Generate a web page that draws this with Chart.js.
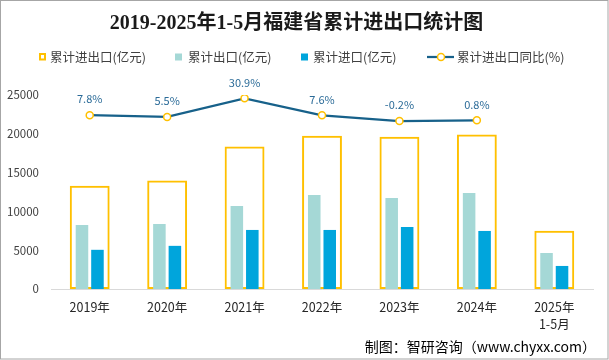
<!DOCTYPE html>
<html>
<head>
<meta charset="utf-8">
<script src="https://cdn.jsdelivr.net/npm/chart.js@4.4.1/dist/chart.umd.min.js"></script>
<style>html,body{margin:0;padding:0;background:#fff;}canvas{display:block;}</style>
</head>
<body>
<canvas id="c" width="609" height="360"></canvas>
<script>
// ---- data ----
const titleText = '2019-2025年1-5月福建省累计进出口统计图';
const sourceText = '制图：智研咨询（www.chyxx.com）';
const categories = ['2019年', '2020年', '2021年', '2022年', '2023年', '2024年', ['2025年', '1-5月']];
const seriesNames = ['累计进出口(亿元)', '累计出口(亿元)', '累计进口(亿元)', '累计进出口同比(%)'];
const totalValues = [13300, 13980, 18350, 19760, 19620, 19900, 7500];
const exportValues = [8250, 8380, 10700, 12120, 11730, 12370, 4640];
const importValues = [5050, 5560, 7610, 7610, 7990, 7480, 2970];
const yoyValues = [7.8, 5.5, 30.9, 7.6, -0.2, 0.8, null];
const yTicks = [0, 5000, 10000, 15000, 20000, 25000];

// ---- styles ----
const CJK = "'Noto Sans CJK SC', 'Noto Sans', sans-serif";
const C_TOTAL = '#FFC000';
const C_EXPORT = '#A5D8D6';
const C_IMPORT = '#00A5DC';
const C_LINE = '#17618A';
const C_LABEL = '#2B6B98';

const overlay = {
  id: 'overlay',
  beforeDraw(chart) {
    const c = chart.ctx;
    c.save();
    c.fillStyle = '#fff';
    c.fillRect(0, 0, chart.width, chart.height);
    c.restore();
  },
  afterDatasetsDraw(chart) {
    const c = chart.ctx;
    const meta = chart.getDatasetMeta(3);
    c.save();
    c.font = '11px ' + CJK;
    c.fillStyle = C_LABEL;
    c.textAlign = 'center';
    c.textBaseline = 'middle';
    meta.data.forEach((pt, i) => {
      const v = yoyValues[i];
      if (v === null || v === undefined) return;
      c.fillText(v.toFixed(1) + '%', pt.x, pt.y - 16);
    });
    c.restore();
  },
  afterDraw(chart) {
    const c = chart.ctx;
    c.save();
    // legend
    const ly = 57;
    c.font = '12.5px ' + CJK;
    c.fillStyle = '#404040';
    c.textAlign = 'left';
    c.textBaseline = 'middle';
    // item 1: hollow box
    c.strokeStyle = C_TOTAL; c.lineWidth = 2;
    c.strokeRect(40, 54, 5, 5.5);
    c.fillStyle = '#404040';
    c.fillText(seriesNames[0], 50, ly);
    // item 2
    c.fillStyle = C_EXPORT; c.fillRect(175, 53.5, 7, 7);
    c.fillStyle = '#404040'; c.fillText(seriesNames[1], 188, ly);
    // item 3
    c.fillStyle = C_IMPORT; c.fillRect(301, 53.5, 7, 7);
    c.fillStyle = '#404040'; c.fillText(seriesNames[2], 313, ly);
    // item 4: line with marker
    c.strokeStyle = C_LINE; c.lineWidth = 2.25;
    c.beginPath(); c.moveTo(427, ly); c.lineTo(454, ly); c.stroke();
    c.beginPath(); c.arc(441, ly, 3.5, 0, Math.PI * 2);
    c.fillStyle = '#fff'; c.fill();
    c.strokeStyle = C_TOTAL; c.lineWidth = 1.5; c.stroke();
    c.fillStyle = '#404040'; c.fillText(seriesNames[3], 457, ly);
    // source
    c.font = '14px ' + CJK;
    c.fillStyle = '#000';
    c.textAlign = 'right';
    c.fillText(sourceText, 596, 347);
    // frame
    c.strokeStyle = '#A6A6A6'; c.lineWidth = 1;
    c.strokeRect(0.5, 0.5, chart.width - 1.5, chart.height - 1.5);
    c.restore();
  }
};

new Chart(document.getElementById('c'), {
  type: 'bar',
  data: {
    labels: categories,
    datasets: [
      {
        label: seriesNames[0], data: totalValues, grouped: false, order: 3,
        backgroundColor: 'rgba(255,255,255,0)', borderColor: C_TOTAL, borderWidth: 2,
        borderSkipped: false, categoryPercentage: 1, barPercentage: 0.515, yAxisID: 'y'
      },
      {
        label: seriesNames[1], data: exportValues, order: 2,
        backgroundColor: C_EXPORT, categoryPercentage: 0.40, barPercentage: 0.81, yAxisID: 'y'
      },
      {
        label: seriesNames[2], data: importValues, order: 2,
        backgroundColor: C_IMPORT, categoryPercentage: 0.40, barPercentage: 0.81, yAxisID: 'y'
      },
      {
        type: 'line', label: seriesNames[3], data: yoyValues, order: 0, yAxisID: 'y1',
        borderColor: C_LINE, borderWidth: 2.25, tension: 0, spanGaps: false,
        pointRadius: 3.5, pointBackgroundColor: '#fff', pointBorderColor: C_TOTAL, pointBorderWidth: 1.5
      }
    ]
  },
  options: {
    responsive: false,
    animation: false,
    layout: { padding: { left: 0, right: 16, top: 0, bottom: 0 } },
    plugins: {
      legend: { display: false },
      tooltip: { enabled: false },
      title: {
        display: true, text: titleText, color: '#1a1a1a',
        font: { family: "'Liberation Serif', 'Noto Sans CJK SC', serif", size: 20, weight: 'bold', lineHeight: 1.2 },
        padding: { top: 12, bottom: 59 }
      }
    },
    scales: {
      x: {
        offset: true,
        grid: { display: false, drawTicks: false },
        border: { display: true, color: '#D9D9D9', width: 1 },
        ticks: { color: '#262626', font: { family: CJK, size: 12.5, lineHeight: 1.41 }, padding: 9, maxRotation: 0, autoSkip: false },
        afterFit(s) { s.height = 71; }
      },
      y: {
        min: 0, max: 25000,
        afterBuildTicks(s) { s.ticks = yTicks.map(v => ({ value: v })); },
        grid: { display: false, drawTicks: false },
        border: { display: false },
        ticks: { color: '#404040', font: { family: CJK, size: 11.5 }, padding: 12, callback: v => String(v) },
        afterFit(s) { s.width = 51; }
      },
      y1: {
        display: false, position: 'right', min: -230.3, max: 35.5,
        grid: { display: false }
      }
    }
  },
  plugins: [overlay]
});
</script>
</body>
</html>
